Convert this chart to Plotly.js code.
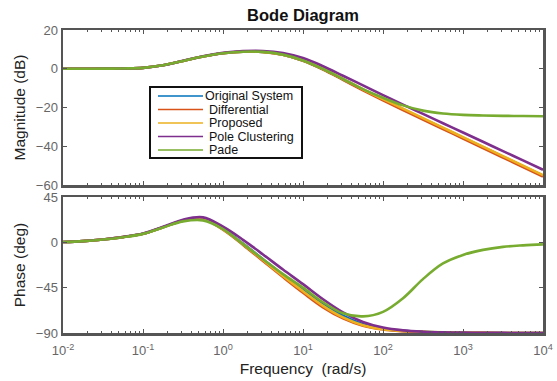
<!DOCTYPE html>
<html>
<head>
<meta charset="utf-8">
<script src="https://cdn.plot.ly/plotly-3.0.1.min.js"></script>
<style>html,body{margin:0;padding:0;background:#fff;}#chart{width:557px;height:381px;}</style>
</head>
<body>
<div id="chart"></div>
<script>
// Frequencies (rad/s), quarter-decade steps from 1e-2 to 1e4
const freq = [0.01, 0.0178, 0.0316, 0.0562, 0.1, 0.178, 0.316, 0.562, 1, 1.78, 3.16, 5.62, 10, 17.8, 31.6, 56.2, 100, 178, 316, 562, 1000, 1778, 3162, 5623, 10000];

// Magnitude (dB)
const magOriginal     = [0, 0.01, 0.05, 0.15, 0.45, 1.8, 4.0, 6.3, 8.0, 8.8, 8.7, 7.3, 4.3, -0.2, -5.4, -10.8, -15.9, -20.9, -25.8, -30.7, -35.6, -40.5, -45.4, -50.3, -55.2];
const magDifferential = [0, 0.01, 0.05, 0.15, 0.45, 1.8, 4.0, 6.3, 8.0, 8.8, 8.7, 7.2, 4.1, -0.4, -5.7, -11.1, -16.3, -21.3, -26.2, -31.1, -36.0, -40.9, -45.8, -50.7, -55.6];
const magProposed     = [0, 0.01, 0.05, 0.15, 0.45, 1.8, 4.0, 6.3, 8.0, 8.8, 8.7, 7.3, 4.4, 0.0, -5.2, -10.6, -15.6, -20.6, -25.5, -30.4, -35.3, -40.2, -45.1, -50.0, -54.9];
const magPoleCluster  = [0, 0.01, 0.05, 0.15, 0.45, 1.8, 4.1, 6.5, 8.2, 9.1, 9.2, 8.1, 5.5, 1.3, -3.6, -8.6, -13.6, -18.5, -23.3, -28.1, -32.9, -37.7, -42.5, -47.3, -52.1];
const magPade         = [0, 0.01, 0.05, 0.15, 0.45, 1.8, 4.0, 6.3, 8.0, 8.8, 8.7, 7.3, 4.3, -0.1, -5.3, -10.5, -15.0, -18.9, -21.6, -23.1, -23.8, -24.1, -24.3, -24.4, -24.5];

// Phase (deg)
const phOriginal     = [0.3, 1.2, 2.8, 5.2, 8.5, 15, 21.5, 23, 13.5, -1.2, -16.8, -32.3, -46.5, -61, -72.8, -81.3, -85.9, -87.9, -88.8, -89.3, -89.7, -89.9, -90, -90, -90];
const phDifferential = [0.3, 1.2, 2.8, 5.2, 8.5, 15, 21.5, 23.2, 12.5, -2.5, -18.5, -34.5, -50, -64.5, -75.5, -82.8, -86.6, -88.3, -89.1, -89.5, -89.8, -89.9, -90, -90, -90];
const phProposed     = [0.3, 1.2, 2.8, 5.2, 8.5, 15, 21.5, 23.3, 13, -1.8, -17.5, -33.3, -48.5, -63, -74.5, -82.2, -86.2, -88, -88.9, -89.4, -89.7, -89.9, -90, -90, -90];
const phPoleCluster  = [0.3, 1.2, 2.8, 5.3, 8.7, 15.5, 22.5, 24.8, 15.5, 2.5, -12, -27, -41.5, -56.5, -69.5, -79, -84.6, -87.4, -88.7, -89.3, -89.6, -89.8, -89.9, -90, -90];
const phPade         = [0.3, 1.2, 2.8, 5.1, 8.4, 14.8, 20.8, 21.8, 13.2, -1.8, -16.8, -31.5, -45, -59.5, -70.5, -73.5, -69, -55.5, -36.5, -21, -12.5, -7.5, -4.5, -3, -2];

const names  = ['Original System', 'Differential', 'Proposed', 'Pole Clustering', 'Pade'];
const colors = ['#0072BD', '#D95319', '#EDB120', '#7E2F8E', '#77AC30'];
const mags = [magOriginal, magDifferential, magProposed, magPoleCluster, magPade];
const phs  = [phOriginal, phDifferential, phProposed, phPoleCluster, phPade];

const xTickVals = [0.01, 0.1, 1, 10, 100, 1000, 10000];
const xTickText = ['10<sup>-2</sup>', '10<sup>-1</sup>', '10<sup>0</sup>', '10<sup>1</sup>', '10<sup>2</sup>', '10<sup>3</sup>', '10<sup>4</sup>'];
const magTicks = [-60, -40, -20, 0, 20];
const phTicks  = [-90, -45, 0, 45];

const traces = [];
for (let i = 0; i < 5; i++) {
  traces.push({x: freq, y: mags[i], xaxis: 'x', yaxis: 'y', mode: 'lines', name: names[i], showlegend: false,
    line: {color: colors[i], width: 2.6, shape: 'spline', smoothing: 1}, hoverinfo: 'skip'});
}
for (let i = 0; i < 5; i++) {
  traces.push({x: freq, y: phs[i], xaxis: 'x2', yaxis: 'y2', mode: 'lines', name: names[i], showlegend: false,
    line: {color: colors[i], width: 2.6, shape: 'spline', smoothing: 1}, hoverinfo: 'skip'});
}

const font = 'Liberation Sans, Arial, sans-serif';
const axCommon = {
  showline: true, linecolor: '#555', linewidth: 2.5, mirror: 'allticks',
  ticks: 'inside', ticklen: 4, tickcolor: '#555', tickwidth: 1,
  showgrid: false, zeroline: false,
  tickfont: {family: font, size: 13, color: '#666'}
};

// Legend box drawn in plot pixels (compact MATLAB-style legend)
const W = 557, H = 381, L = 63, R = 14, T = 30, B = 48;
const pw = W - L - R, ph = H - T - B;
const px = v => (v - L) / pw;
const py = v => (H - B - v) / ph;
const legBox = {x0: 150, x1: 302, y0: 87, y1: 158};
const legRows = [96, 109.5, 123, 136.5, 150];
const shapes = [{type: 'rect', xref: 'paper', yref: 'paper', x0: px(legBox.x0), x1: px(legBox.x1),
  y0: py(legBox.y1), y1: py(legBox.y0), line: {color: '#111', width: 2}, fillcolor: '#fff', layer: 'above'}];
const annotations = [];
names.forEach((n, i) => {
  shapes.push({type: 'line', xref: 'paper', yref: 'paper', x0: px(158), x1: px(203),
    y0: py(legRows[i]), y1: py(legRows[i]), line: {color: colors[i], width: 1.4}, layer: 'above'});
  annotations.push({xref: 'paper', yref: 'paper', x: px(i === 0 ? 203 : 207), y: py(legRows[i]),
    xanchor: 'left', yanchor: 'middle', showarrow: false, text: n,
    font: {family: font, size: 12.5, color: '#111'}});
});

const layout = {
  width: W, height: H,
  margin: {l: L, r: R, t: T, b: B},
  paper_bgcolor: '#fff', plot_bgcolor: '#fff',
  font: {family: font},
  showlegend: false,
  title: {text: '<b>Bode Diagram</b>', x: 0.5, xref: 'paper', y: 0.961, yref: 'container', yanchor: 'middle',
    font: {family: font, size: 16.5, color: '#111'}},
  xaxis: Object.assign({}, axCommon, {type: 'log', range: [-2, 4], anchor: 'y', matches: 'x2',
    tickvals: xTickVals, showticklabels: false,
    minor: {ticks: 'inside', ticklen: 2, tickcolor: '#555', dtick: 'D1'}}),
  yaxis: Object.assign({}, axCommon, {domain: [0.4884, 1], range: [-60, 20], tickvals: magTicks,
    title: {text: 'Magnitude (dB)', standoff: 7, font: {family: font, size: 15.5, color: '#222'}}}),
  xaxis2: Object.assign({}, axCommon, {type: 'log', range: [-2, 4], anchor: 'y2',
    tickvals: xTickVals, ticktext: xTickText, ticklabelstandoff: 4,
    minor: {ticks: 'inside', ticklen: 2, tickcolor: '#555', dtick: 'D1'},
    title: {text: 'Frequency  (rad/s)', standoff: 6, font: {family: font, size: 15.5, color: '#222'}}}),
  yaxis2: Object.assign({}, axCommon, {domain: [0, 0.4488], range: [-90, 45], tickvals: phTicks,
    title: {text: 'Phase (deg)', standoff: 7, font: {family: font, size: 15.5, color: '#222'}}}),
  shapes: shapes,
  annotations: annotations
};

Plotly.newPlot('chart', traces, layout, {staticPlot: true, displayModeBar: false});
</script>
</body>
</html>
